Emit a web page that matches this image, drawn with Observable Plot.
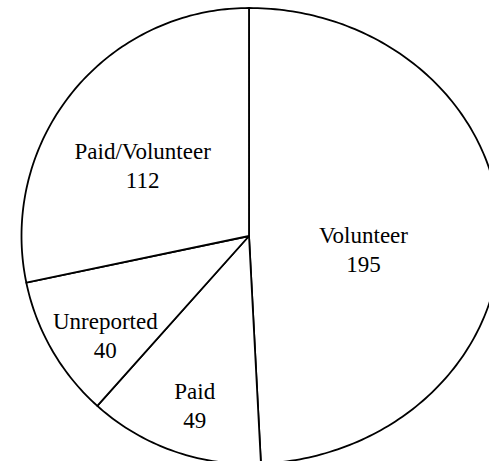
<!DOCTYPE html>
<html>
<head>
<meta charset="utf-8">
<script src="https://cdn.jsdelivr.net/npm/d3@7"></script>
<script src="https://cdn.jsdelivr.net/npm/@observablehq/plot@0.6"></script>
<style>
  html, body { margin: 0; padding: 0; background: #fff; overflow: hidden; }
  #chart svg { display: block; }
</style>
</head>
<body>
<div id="chart"></div>
<script>
// Data
const categories = ["Volunteer", "Paid", "Unreported", "Paid/Volunteer"];
const counts = [195, 49, 40, 112];

const data = categories.map((c, i) => ({category: c, value: counts[i]}));
const arcs = d3.pie().sort(null).value(d => d.value)(data);

// Slice polygons in unit-circle coordinates (angle clockwise from 12 o'clock)
const slicePoints = [];
for (const a of arcs) {
  slicePoints.push({k: a.data.category, x: 0, y: 0});
  const steps = Math.max(8, Math.ceil((a.endAngle - a.startAngle) / (Math.PI / 180)));
  for (let s = 0; s <= steps; s++) {
    const t = a.startAngle + (a.endAngle - a.startAngle) * s / steps;
    slicePoints.push({k: a.data.category, x: Math.sin(t), y: -Math.cos(t)});
  }
}

// Labels at the mid-angle; narrower wedges push the label further out
const labels = arcs.map(a => {
  const mid = (a.startAngle + a.endAngle) / 2;
  const span = a.endAngle - a.startAngle;
  const r = 0.45 + 0.35 * (1 - span / Math.PI);
  return {x: r * Math.sin(mid), y: -r * Math.cos(mid), text: `${a.data.category}\n${a.data.value}`};
});

const chart = Plot.plot({
  width: 489,
  height: 461,
  margin: 0,
  style: {background: "white", fontFamily: "'Liberation Serif', 'Times New Roman', serif"},
  x: {type: "linear", domain: [-1, 0, 1], range: [21, 248.5, 500], axis: null},
  y: {type: "linear", domain: [-1, 1], range: [7.5, 463.5], axis: null},
  marks: [
    Plot.line(slicePoints, {x: "x", y: "y", z: "k", curve: "linear-closed", fill: "white", stroke: "black", strokeWidth: 1.8}),
    Plot.text(labels, {x: "x", y: "y", text: "text", dy: 15, fontSize: 23, lineHeight: 1.25, fill: "black", fontFamily: "'Liberation Serif', 'Times New Roman', serif"})
  ]
});
document.getElementById("chart").append(chart);
</script>
</body>
</html>
